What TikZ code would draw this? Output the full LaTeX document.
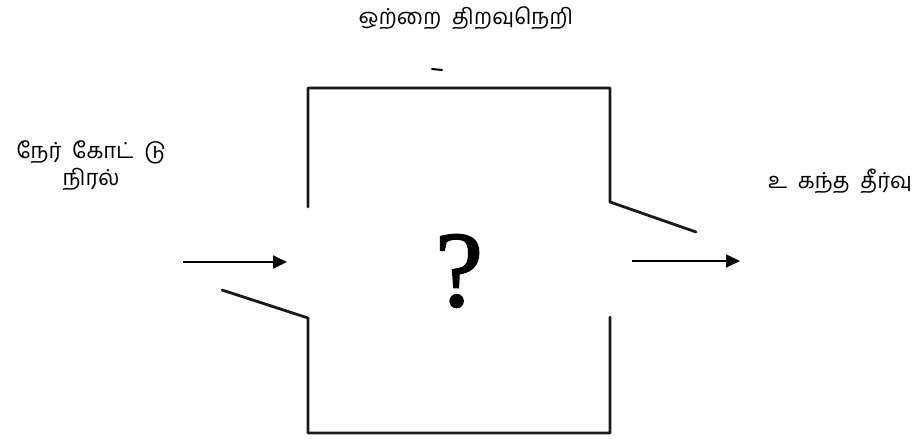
\documentclass[tikz,border=0pt]{standalone}
\usepackage{fontspec}
\setmainfont{Liberation Serif}
\newfontfamily\tamilfont[Script=Tamil]{Hind Madurai}
\newfontfamily\qfont[FakeBold=1.6]{Liberation Serif}
\usetikzlibrary{arrows.meta}
\begin{document}
\begin{tikzpicture}[x=1pt,y=-1pt,
  wall/.style={line width=2.8pt,line join=round,line cap=round,black!90},
  flow/.style={line width=1.8pt,-{Triangle[length=14pt,width=13pt]}},
  lbl/.style={font=\tamilfont\fontsize{22}{27}\selectfont,align=center,inner sep=0pt}]
\useasboundingbox (0,0) rectangle (919,444);
% corners of the box
\coordinate (tl1) at (308,207);
\coordinate (tl) at (308,88);
\coordinate (tr) at (610,88);
\coordinate (tr1) at (610,202);
\coordinate (tr2) at (696,232);
\coordinate (bl2) at (222,290);
\coordinate (bl1) at (308,318);
\coordinate (bl) at (308,433);
\coordinate (br) at (610,433);
\coordinate (br1) at (610,317);
\draw[wall] (tl1) -- (tl) -- (tr) -- (tr1) -- (tr2);
\draw[wall] (bl2) -- (bl1) -- (bl) -- (br) -- (br1);
% small mark above the box
\coordinate (m1) at (432,69);
\coordinate (m2) at (442,70);
\draw[line width=2pt,line cap=round] (m1) -- (m2);
% arrows
\coordinate (inS) at (183,262);
\coordinate (inE) at (287,262);
\coordinate (outS) at (632,261);
\coordinate (outE) at (740,261);
\draw[flow] (inS) -- (inE);
\draw[flow] (outS) -- (outE);
% labels
\node[lbl] (top) at (466,18) {ஒற்றை\ \ திறவுநெறி};
\node[lbl] (lft) at (91,166) {நேர்\ \ கோட்\ \ டு\\நிரல்};
\node[lbl] (rgt) at (840,181) {உ\ \ கந்த\ \ தீர்வு};
\node[font=\qfont\fontsize{108}{108}\selectfont,inner sep=0pt] (q) at (459,271) {?};
\end{tikzpicture}
\end{document}
